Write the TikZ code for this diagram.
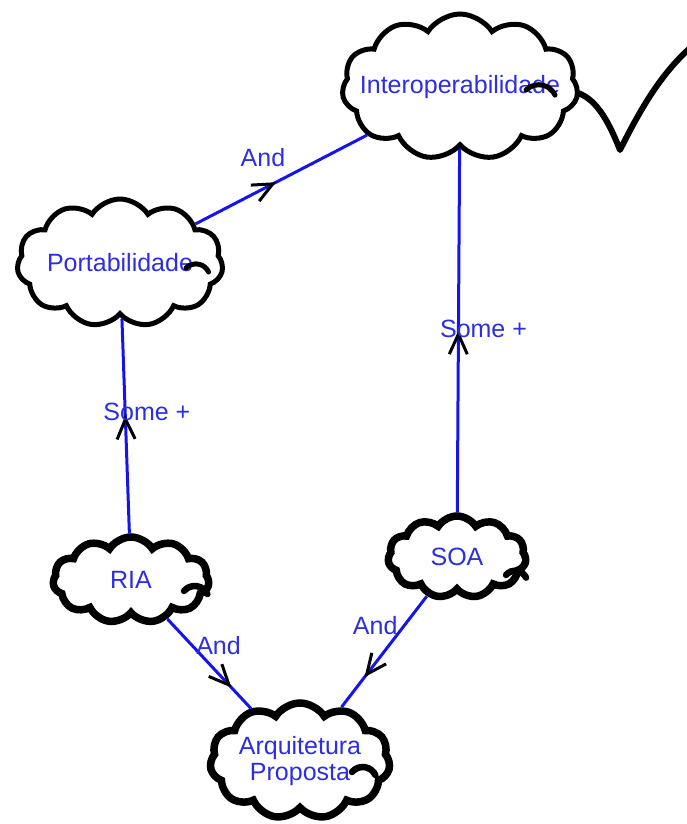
\documentclass[tikz,border=0pt]{standalone}
\usepackage{fontspec}
\setmainfont{Liberation Sans}
\usetikzlibrary{shapes.symbols,arrows.meta,decorations.markings}
\definecolor{linkblue}{RGB}{20,20,235}
\definecolor{labelblue}{RGB}{45,45,225}
\begin{document}
\begin{tikzpicture}[x=1pt,y=-1pt,
  concept/.style={cloud, cloud puffs=11, cloud puff arc=115, cloud ignores aspect,
    draw=black, fill=white, line width=#1, font=\fontsize{25}{26}\selectfont,
    text=labelblue, align=center, inner sep=0pt},
  curl/.style={draw=black, line width=#1, line cap=round},
  link/.style={draw=linkblue, line width=3pt},
  midarrow/.style={postaction={decorate}, decoration={markings,
    mark=at position #1 with {\arrow[black]{Straight Barb[length=20pt,width=18pt,line width=3pt]}}}},
  linklabel/.style={font=\fontsize{25}{26}\selectfont, text=labelblue, inner sep=0pt}]
\useasboundingbox (0,0) rectangle (686,824);

% concepts
\node[concept=5pt, inner xsep=-22pt, minimum width=236pt, minimum height=146pt] (int) at (460,87) {Interoperabilidade};
\node[concept=5pt, minimum width=206pt, minimum height=128pt] (port) at (120,263) {Portabilidade};
\node[concept=7.5pt, minimum width=156pt, minimum height=86pt] (ria) at (131,580) {RIA};
\node[concept=7.5pt, minimum width=138pt, minimum height=82pt] (soa) at (457,557) {SOA};
\node[concept=7.5pt, minimum width=180pt, minimum height=116pt] (arq) at (300,761) {Arquitetura\\Proposta};

% inner curls of the clouds
\draw[curl=5pt] (526,90) arc[start angle=225, end angle=335, radius=18];
\draw[curl=5pt] (186,268) arc[start angle=225, end angle=335, radius=14];
\draw[curl=6.5pt] (184,591) arc[start angle=220, end angle=335, radius=14];
\draw[curl=6.5pt] (506,575) arc[start angle=220, end angle=335, radius=12];
\draw[curl=6.5pt] (352,772) arc[start angle=220, end angle=335, radius=14];

% connectors
\draw[link, midarrow=0.47] (port) -- (int)
  node[linklabel, pos=0.37, xshift=4pt, yshift=34pt] {And};
\draw[link, midarrow=0.55] (ria) -- (port)
  node[linklabel, pos=0.6, xshift=22pt, yshift=-7pt] {Some +};
\draw[link, midarrow=0.5] (soa) -- (int)
  node[linklabel, pos=0.53, xshift=25pt, yshift=-9pt] {Some +};
\draw[link, midarrow=0.77] (ria) -- (arq)
  node[linklabel, pos=0.3, xshift=26pt] {And};
\draw[link, midarrow=0.73] (soa) -- (arq)
  node[linklabel, pos=0.3, xshift=-26pt, yshift=4pt] {And};

% check mark beside the top concept
\draw[black, line width=6pt, line cap=round, line join=round]
  (578,93) .. controls (598,100) and (610,125) .. (620,150)
  .. controls (640,110) and (660,75) .. (690,48);
\end{tikzpicture}
\end{document}
